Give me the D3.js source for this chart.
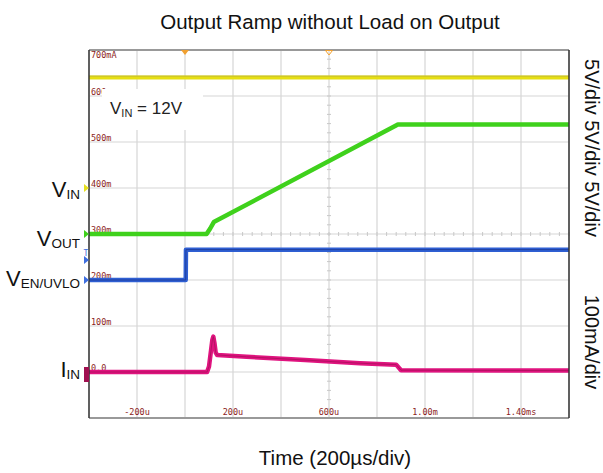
<!DOCTYPE html>
<html><head><meta charset="utf-8">
<script src="https://cdn.jsdelivr.net/npm/d3@7"></script>
<style>body{margin:0;background:#fff}svg{display:block}</style>
</head><body>
<svg id="c" width="603" height="473"></svg>
<script>
// ---- data (time in µs, voltages in V, current in mA) ----
const vinT   = [-400, 1600];
const vinV   = [12, 12];
const voutT  = [-400, 90, 105, 120, 887, 1600];
const voutV  = [0, 0, 0.6, 1.3, 11.9, 11.9];
const venT   = [-400, 3, 4, 1600];
const venV   = [0, 0, 3.3, 3.3];
const iinT   = [-400, 92, 100, 108, 114, 118, 123, 128, 134, 257, 500, 729, 880, 900, 1600];
const iinI   = [0, 0, 12, 45, 70, 77, 62, 42, 37, 33, 26, 19, 16, 4, 3];
const timeTickVals = [-200, 200, 600, 1000, 1400];
const timeTickLabels = ["-200u", "200u", "600u", "1.00m", "1.40ms"];
const curTickVals = [0, 100, 200, 300, 400, 500, 600, 700];
const curTickLabels = ["0.0", "100m", "200m", "300m", "400m", "500m", "600m", "700mA"];

const svg = d3.select("#c");
const L = 89, R = 569, T = 50, B = 418;
const x = d3.scaleLinear().domain([-400, 1600]).range([L, R]);
const yDiv = d3.scaleLinear().domain([0, 8]).range([B, T]);
const yCur = d3.scaleLinear().domain([0, 700]).range([yDiv(1), T]);
const font = "'Liberation Sans', Arial, Helvetica, sans-serif";
const mono = "'DejaVu Sans Mono', monospace";
const labelCol = "#8b1c1c";

// grid
const g = svg.append("g");
d3.range(0, 11).forEach(i => {
  const xx = L + i * (R - L) / 10;
  g.append("line").attr("x1", xx).attr("x2", xx).attr("y1", T).attr("y2", B)
    .attr("stroke", "#d6d6d6").attr("stroke-width", 1.2);
});
d3.range(0, 9).forEach(i => {
  g.append("line").attr("x1", L).attr("x2", R).attr("y1", yDiv(i)).attr("y2", yDiv(i))
    .attr("stroke", "#d6d6d6").attr("stroke-width", 1.2);
});
// centre ticks
const cx = x(600), cy = yDiv(4);
d3.range(0, 51).forEach(i => {
  const xx = L + i * (R - L) / 50;
  g.append("line").attr("x1", xx).attr("x2", xx).attr("y1", cy - 2).attr("y2", cy + 2)
    .attr("stroke", "#c8c8c8").attr("stroke-width", 1);
});
d3.range(0, 41).forEach(i => {
  const yy = T + i * (B - T) / 40;
  g.append("line").attr("x1", cx - 2).attr("x2", cx + 2).attr("y1", yy).attr("y2", yy)
    .attr("stroke", "#c8c8c8").attr("stroke-width", 1);
});

// current labels
curTickVals.forEach((v, i) => {
  const yy = v === 700 ? yCur(v) + 7.5 : yCur(v) - 1.5;
  svg.append("text").attr("x", 91).attr("y", yy).text(curTickLabels[i])
    .attr("font-family", mono).attr("font-size", 8.5).attr("fill", labelCol);
});
// time labels
timeTickVals.forEach((v, i) => {
  svg.append("text").attr("x", x(v)).attr("y", 415).attr("text-anchor", "middle")
    .text(timeTickLabels[i]).attr("font-family", mono).attr("font-size", 8.5).attr("fill", labelCol);
});

// white box with VIN = 12V
svg.append("rect").attr("x", 102).attr("y", 89).attr("width", 101).attr("height", 41).attr("fill", "#fff");
const bt = svg.append("text").attr("x", 110).attr("y", 114).attr("font-family", font).attr("font-size", 17).attr("fill", "#222");
bt.append("tspan").text("V");
bt.append("tspan").text("IN").attr("font-size", 11).attr("dy", 3);
bt.append("tspan").text(" = 12V").attr("dy", -3);

// traces
function trace(ts, vs, yfn, col, w) {
  const pts = ts.map((t, i) => [x(t), yfn(vs[i])]);
  svg.append("path").attr("d", d3.line()(pts)).attr("fill", "none")
    .attr("stroke", col).attr("stroke-width", w).attr("stroke-linejoin", "round");
}
trace(vinT, vinV, v => yDiv(5 + v / 5), "#e6df12", 4);
trace(vinT, vinV, v => yDiv(5 + v / 5) - 1.5, "#b8b040", 0.8);
trace(voutT, voutV, v => yDiv(4 + v / 5), "#3fd11c", 4.5);
trace(venT, venV, v => yDiv(3 + v / 5), "#2f5fd3", 4.5);
trace(venT, venV, v => yDiv(3 + v / 5), "#1f3f9f", 1);
trace(iinT, iinI, v => yCur(v), "#e0137f", 4.5);
trace(iinT, iinI, v => yCur(v), "#a8105a", 0.8);

// frame
svg.append("line").attr("x1", L).attr("x2", R).attr("y1", T).attr("y2", T).attr("stroke", "#999").attr("stroke-width", 2);
svg.append("line").attr("x1", L).attr("x2", R).attr("y1", B).attr("y2", B).attr("stroke", "#999").attr("stroke-width", 2);
svg.append("line").attr("x1", L).attr("x2", L).attr("y1", T).attr("y2", B).attr("stroke", "#333").attr("stroke-width", 1.5);
svg.append("line").attr("x1", R).attr("x2", R).attr("y1", T).attr("y2", B).attr("stroke", "#333").attr("stroke-width", 1.5);

// trigger markers
const tx = x(0);
svg.append("path").attr("d", `M${tx-4},${T} L${tx+4},${T} L${tx},${T+5} Z`).attr("fill", "#f0a030");
svg.append("path").attr("d", `M${cx-3.5},${T+0.5} L${cx+3.5},${T+0.5} L${cx},${T+5} Z`).attr("fill", "none").attr("stroke", "#f0a030").attr("stroke-width", 1);

// channel markers
function marker(yy, col) {
  svg.append("path").attr("d", `M${L-5},${yy-4} L${L},${yy} L${L-5},${yy+4} Z`).attr("fill", col);
}
marker(yDiv(5), "#e6e020");
marker(yDiv(4), "#3fd11c");
marker(yDiv(3), "#3f6fe0");
marker(260, "#3f6fe0");
svg.append("text").attr("x", 86).attr("y", 256).attr("text-anchor", "middle").text("T")
  .attr("font-family", mono).attr("font-size", 8).attr("fill", "#3f6fe0");
svg.append("rect").attr("x", 84).attr("y", 367).attr("width", 5).attr("height", 15).attr("fill", "#a01050");

// left labels
function sublabel(yy, main, sub) {
  const t = svg.append("text").attr("x", 80).attr("y", yy).attr("text-anchor", "end")
    .attr("font-family", font).attr("font-size", 22).attr("fill", "#111");
  t.append("tspan").text(main);
  t.append("tspan").text(sub).attr("font-size", 13.5).attr("dy", 2);
}
sublabel(197, "V", "IN");
sublabel(246, "V", "OUT");
sublabel(286, "V", "EN/UVLO");
sublabel(377, "I", "IN");

// title & axis
svg.append("text").attr("x", 330).attr("y", 29).attr("text-anchor", "middle")
  .text("Output Ramp without Load on Output").attr("font-family", font).attr("font-size", 20.5).attr("fill", "#111");
svg.append("text").attr("x", 335).attr("y", 465).attr("text-anchor", "middle")
  .text("Time (200µs/div)").attr("font-family", font).attr("font-size", 20.5).attr("fill", "#111");

// right rotated labels
svg.append("text").attr("transform", "translate(585,148) rotate(90)").attr("text-anchor", "middle")
  .text("5V/div 5V/div 5V/div").attr("font-family", font).attr("font-size", 20).attr("fill", "#111");
svg.append("text").attr("transform", "translate(585,342) rotate(90)").attr("text-anchor", "middle")
  .text("100mA/div").attr("font-family", font).attr("font-size", 20).attr("fill", "#111");
</script>
</body></html>
